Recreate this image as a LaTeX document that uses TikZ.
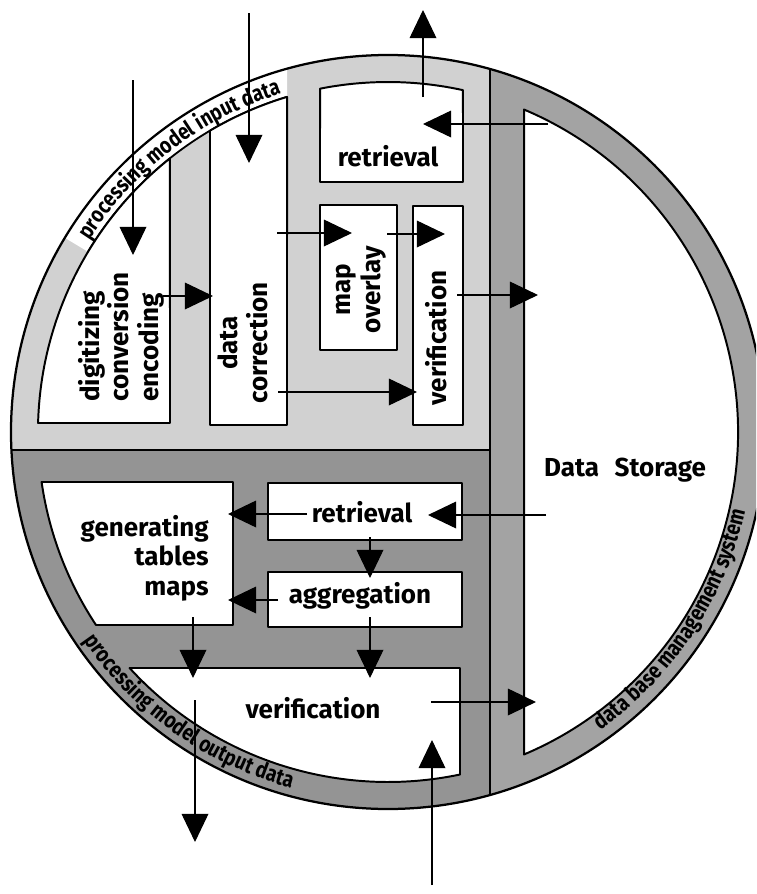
\documentclass[tikz,border=0pt]{standalone}
\usepackage{fontspec}
\setmainfont{Fira Sans}
\newfontfamily\ringfam{Fira Sans}[FakeStretch=0.84]
\usetikzlibrary{calc,arrows.meta,decorations.text}
\newcommand\lblfont{\fontsize{18.5}{21}\selectfont\bfseries}
\newcommand\ringfont{\ringfam\fontsize{16}{16}\selectfont\bfseries}
\colorlet{inreg}{black!18}
\colorlet{outreg}{black!42}
\colorlet{dbms}{black!36}
\begin{document}
\begin{tikzpicture}[x=0.025cm,y=0.025cm,
  boxshape/.style={fill=white,draw=black,line width=1.4pt,line join=round},
  divider/.style={draw=black,line width=1.5pt},
  lbl/.style={font=\lblfont,inner sep=0pt},
  flow/.style={line width=0.8pt,-{Triangle[length=20pt,width=19pt]}},
  ringtext/.style={decorate,decoration={text along path,text align=center,text={|\ringfont|#1}}}
]
\useasboundingbox (0,0) rectangle (756,-894);
\clip (0,0) rectangle (756,-894);
\fill[white] (0,0) rectangle (756,-894);
\coordinate (C) at (388,-432);

% ring and regions
\fill[dbms] (C) circle[radius=377];
\begin{scope}
  \clip (C) circle[radius=377];
  \fill[inreg] (0,0) rectangle (490,-450);
  \fill[outreg] (0,-450) rectangle (490,-894);
\end{scope}

% white ribbon for the input label
\fill[white] ($(C)+(149:377)$) arc[start angle=149,end angle=105.5,radius=377]
  -- ($(C)+(106.77:350)$) arc[start angle=106.77,end angle=149,radius=350] -- cycle;
\draw[line width=1.3pt] ($(C)+(106.77:350)$) arc[start angle=106.77,end angle=149,radius=350];

% data storage
\filldraw[boxshape] ($(C)+(67.13:350)$) arc[start angle=67.13,end angle=-67.13,radius=350] -- cycle;

% input boxes
\filldraw[boxshape] (170,-423) -- (38.1,-423) arc[start angle=178.5,end angle=128.53,radius=350] -- cycle;
\filldraw[boxshape] (210,-425) -- (287,-425) -- ($(C)+(106.77:350)$) arc[start angle=106.77,end angle=120.57,radius=350] -- cycle;
\filldraw[boxshape] (320,-182) -- (463,-182) -- ($(C)+(77.63:350)$) arc[start angle=77.63,end angle=101.2,radius=350] -- cycle;
\filldraw[boxshape] (320,-205) rectangle (397,-350);
\filldraw[boxshape] (413,-206) rectangle (463,-425);

% output boxes
\filldraw[boxshape] (41.6,-482) -- (233,-482) -- (233,-625) -- (96,-625) arc[start angle=213.46,end angle=188.21,radius=350] -- cycle;
\filldraw[boxshape] (268,-483) rectangle (462,-540);
\filldraw[boxshape] (268,-572) rectangle (462,-627);
\filldraw[boxshape] (129.5,-668) -- (460,-668) -- (460,-774.5) arc[start angle=281.87,end angle=222.4,radius=350] -- cycle;

% dividers and outer circle
\draw[divider] (490,-69.1) -- (490,-794.9);
\draw[divider] (11.4,-450) -- (490,-450);
\draw[line width=1.6pt] (C) circle[radius=377];

% ring labels
\path[ringtext={processing model input data}] ($(C)+(150:355)$) arc[start angle=150,end angle=104.8,radius=355];
\path[ringtext={processing model output data}] ($(C)+(200:369)$) arc[start angle=200,end angle=269.2,radius=369];
\path[ringtext={data base management system}] ($(C)+(-66:366)$) arc[start angle=-66,end angle=-1,radius=366];

% labels
\node[lbl,rotate=90,align=left,anchor=west] (tdig) at (121,-402) {digitizing\\conversion\\encoding};
\node[lbl,rotate=90,align=center] (tcor) at (243,-343) {data\\correction};
\node[lbl,rotate=90,align=center] (tmap) at (361,-290) {map\\overlay};
\node[lbl,rotate=90] (tver1) at (436,-338) {verification};
\node[lbl] (tret1) at (388,-156) {retrieval};
\node[lbl,align=right,anchor=east] (tgen) at (209,-558) {generating\\tables\\maps};
\node[lbl] (tret2) at (362,-512) {retrieval};
\node[lbl] (tagg) at (360,-596) {aggregation};
\node[lbl] (tver2) at (313,-708) {verification};
\node[lbl] (tds) at (625,-470) {Data\hspace{0.6em}Storage};

% arrow end points
\coordinate (a1s) at (133,-80);  \coordinate (a1e) at (133,-255);
\coordinate (a2s) at (249,-13);  \coordinate (a2e) at (249,-163);
\coordinate (a3s) at (423,-97);  \coordinate (a3e) at (423,-10);
\coordinate (a4s) at (548,-124); \coordinate (a4e) at (423,-124);
\coordinate (a5s) at (163,-296); \coordinate (a5e) at (213,-296);
\coordinate (a6s) at (277,-233); \coordinate (a6e) at (352,-233);
\coordinate (a7s) at (387,-234); \coordinate (a7e) at (445,-234);
\coordinate (a8s) at (278,-392); \coordinate (a8e) at (417,-392);
\coordinate (a9s) at (457,-295); \coordinate (a9e) at (538,-295);
\coordinate (a10s) at (546,-515); \coordinate (a10e) at (428,-515);
\coordinate (a11s) at (307,-514); \coordinate (a11e) at (228,-514);
\coordinate (a12s) at (370,-537); \coordinate (a12e) at (370,-578);
\coordinate (a13s) at (278,-600); \coordinate (a13e) at (228,-600);
\coordinate (a14s) at (193,-617); \coordinate (a14e) at (193,-678);
\coordinate (a15s) at (370,-617); \coordinate (a15e) at (370,-678);
\coordinate (a16s) at (195,-700); \coordinate (a16e) at (195,-842);
\coordinate (a17s) at (431,-702); \coordinate (a17e) at (536,-702);
\coordinate (a18s) at (432,-885); \coordinate (a18e) at (432,-740);

\foreach \i in {1,...,18} \draw[flow] (a\i s) -- (a\i e);
\end{tikzpicture}
\end{document}
